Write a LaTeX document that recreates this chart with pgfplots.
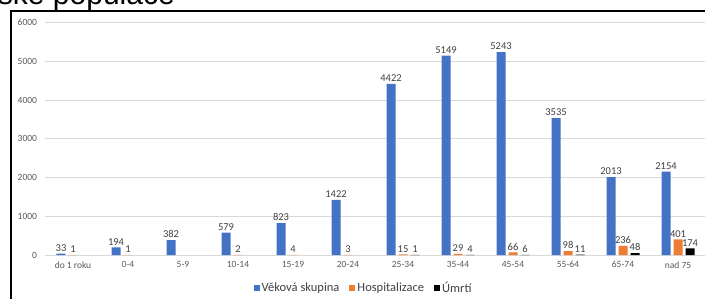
\documentclass[border=0pt]{standalone}
\usepackage{pgfplots}
\pgfplotsset{compat=1.18}
\usepackage{fontspec}
\setmainfont{Carlito}
\newfontfamily\arialf{Liberation Sans}
\definecolor{cblue}{HTML}{4472C4}
\definecolor{corange}{HTML}{ED7D31}
\definecolor{ctext}{HTML}{595959}
\definecolor{clab}{HTML}{404040}
\definecolor{cgrid}{HTML}{D9D9D9}
\begin{document}
\begin{tikzpicture}[x=1pt,y=1pt]
\useasboundingbox (0,0) rectangle (705,298);
\clip (0,0) rectangle (705,298);
\node[anchor=base east, inner sep=0, font=\arialf\fontsize{30}{30}\selectfont] at (175,293.5) {Věková struktura české populace};
\draw[line width=1.8pt, black] (11,-2) -- (11,287) -- (710,287);
\begin{axis}[at={(45.5pt,43pt)}, anchor=south west, scale only axis,
  width=660pt, height=232.3pt,
  ymin=0, ymax=6000, xmin=-0.5, xmax=11.5,
  ytick={0,1000,...,6000},
  xtick={0,...,11},
  xticklabels={do 1 roku,0-4,5-9,10-14,15-19,20-24,25-34,35-44,45-54,55-64,65-74,nad 75},
  ymajorgrids, grid style={cgrid, line width=0.8pt},
  axis line style={draw=none}, major tick length=0pt,
  tick label style={font=\fontsize{9.5}{10}\selectfont, text=ctext},
  /pgf/number format/assume math mode=true,
  /pgf/number format/1000 sep={},
  scaled y ticks=false,
  y tick label style={xshift=-5pt},
  x tick label style={yshift=-3pt},
  ybar, bar width=9pt,
  nodes near coords,
  nodes near coords style={font=\fontsize{10.5}{11}\selectfont, text=clab, inner sep=2pt},
  legend style={at={(0.482,-0.142)}, anchor=center, legend columns=-1, draw=none, fill=none,
    font=\fontsize{12.5}{13}\selectfont, text=clab,
    /tikz/every even column/.append style={column sep=8pt}},
  legend image code/.code={\fill[#1] (0pt,-3pt) rectangle (6pt,3pt);},
]
\addplot[fill=cblue, draw=none, bar shift=-12pt] coordinates {
 (0,33) (1,194) (2,382) (3,579) (4,823) (5,1422) (6,4422) (7,5149) (8,5243) (9,3535) (10,2013) (11,2154)};
\addplot[fill=corange, draw=none, bar shift=0pt] coordinates {
 (0,1) (1,1) (3,2) (4,4) (5,3) (6,15) (7,29) (8,66) (9,98) (10,236) (11,401)};
\addplot[fill=black, draw=none, bar shift=12pt] coordinates {
 (6,1) (7,4) (8,6) (9,11) (10,48) (11,174)};
\legend{Věková skupina, Hospitalizace, Úmrtí}
\end{axis}
\end{tikzpicture}
\end{document}
